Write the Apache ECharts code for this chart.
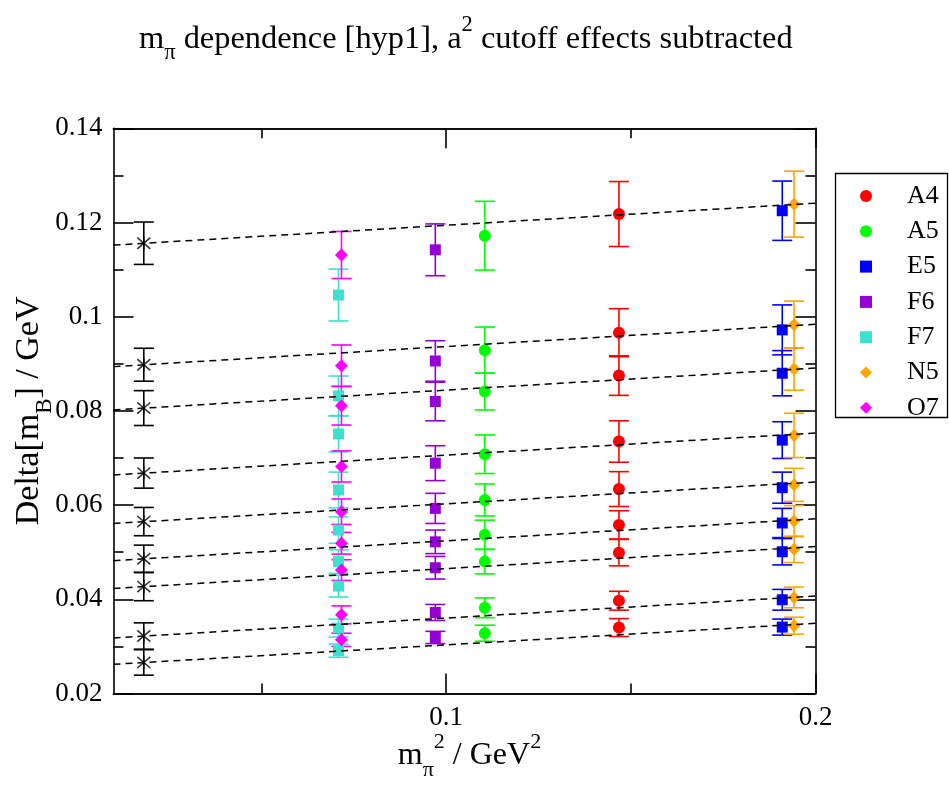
<!DOCTYPE html>
<html><head><meta charset="utf-8">
<script src="https://cdn.jsdelivr.net/npm/echarts@6/dist/echarts.min.js"></script>
<style>html,body{margin:0;padding:0;background:#fff}#c{width:949px;height:786px}</style>
</head><body><div id="c"></div>
<script>
// ---------------- data ----------------
const ensembleNames = ['A4', 'A5', 'E5', 'F6', 'F7', 'N5', 'O7'];
const ensembleColors = ['#ff0000', '#00ff00', '#0000ff', '#9400d3', '#40e0d0', '#ffa500', '#ff00ff'];
const ensembleSymbols = ['circle', 'circle', 'rect', 'rect', 'rect', 'diamond', 'diamond'];
// m_pi^2 (GeV^2) of each ensemble
const ensembleX = [0.1468, 0.1105, 0.1910, 0.0971, 0.0709, 0.1942, 0.0717];

const A4_val = [0.1218, 0.0966, 0.0875, 0.0735, 0.0634, 0.0558, 0.0499, 0.0397, 0.0340];
const A4_err = [0.0069, 0.0051, 0.0042, 0.0044, 0.0037, 0.0030, 0.0028, 0.0020, 0.0019];
const A5_val = [0.1172, 0.0929, 0.0841, 0.0708, 0.0611, 0.0537, 0.0480, 0.0382, 0.0328];
const A5_err = [0.0073, 0.0049, 0.0039, 0.0041, 0.0034, 0.0031, 0.0026, 0.0021, 0.0017];
const E5_val = [0.1225, 0.0972, 0.0880, 0.0738, 0.0637, 0.0562, 0.0501, 0.0399, 0.0341];
const E5_err = [0.0063, 0.0053, 0.0048, 0.0039, 0.0033, 0.0031, 0.0028, 0.0022, 0.0017];
const F6_val = [0.1142, 0.0906, 0.0820, 0.0689, 0.0593, 0.0522, 0.0467, 0.0372, 0.0319];
const F6_err = [0.0055, 0.0043, 0.0041, 0.0037, 0.0032, 0.0025, 0.0024, 0.0017, 0.0013];
const F7_val = [0.1046, 0.0832, 0.0751, 0.0632, 0.0547, 0.0480, 0.0428, 0.0339, 0.0291];
const F7_err = [0.0055, 0.0042, 0.0038, 0.0038, 0.0028, 0.0025, 0.0023, 0.0019, 0.0014];
const N5_val = [0.1239, 0.0983, 0.0889, 0.0748, 0.0643, 0.0566, 0.0506, 0.0404, 0.0344];
const N5_err = [0.0070, 0.0050, 0.0045, 0.0047, 0.0035, 0.0033, 0.0028, 0.0022, 0.0018];
const O7_val = [0.1131, 0.0896, 0.0811, 0.0682, 0.0586, 0.0519, 0.0462, 0.0367, 0.0314];
const O7_err = [0.0050, 0.0044, 0.0041, 0.0033, 0.0027, 0.0023, 0.0022, 0.0019, 0.0014];

// physical point (stars) and fit lines
const physX = 0.0182;
const phys_val = [0.1156, 0.0898, 0.0806, 0.0668, 0.0565, 0.0486, 0.0427, 0.0322, 0.0266];
const phys_err = [0.0045, 0.0035, 0.0037, 0.0032, 0.0030, 0.0029, 0.0030, 0.0028, 0.0027];
const fitX = [0.01, 0.2];
const fit_left = [0.1152, 0.0894, 0.0802, 0.0664, 0.0561, 0.0482, 0.0423, 0.0318, 0.0262];
const fit_right = [0.1241, 0.0984, 0.0891, 0.0753, 0.0649, 0.0571, 0.0512, 0.0407, 0.0349];

// axis ticks
const xMin = 0.01, xMax = 0.2;
const xMajorTicks = [0.1, 0.2];
const xMinorTicks = [0.05, 0.15];
const yMin = 0.02, yMax = 0.14, yStep = 0.02;

// ---------------- chart ----------------
const ensembleVals = [A4_val, A5_val, E5_val, F6_val, F7_val, N5_val, O7_val];
const ensembleErrs = [A4_err, A5_err, E5_err, F6_err, F7_err, N5_err, O7_err];

const FONT = "'Liberation Serif', 'Times New Roman', serif";
const chart = echarts.init(document.getElementById('c'), null, {renderer: 'canvas'});

function errorBarSeries(name, color, xs, vals, errs) {
  return {
    name: name + '_err',
    type: 'custom',
    xAxisIndex: 0, yAxisIndex: 0,
    z: 2,
    silent: true,
    data: vals.map((v, i) => [xs[i], v, errs[i]]),
    renderItem: function (params, api) {
      const x = api.value(0), y = api.value(1), e = api.value(2);
      const top = api.coord([x, y + e]);
      const bot = api.coord([x, y - e]);
      const hw = 10;
      const st = {stroke: color, lineWidth: 1.6};
      return {
        type: 'group',
        children: [
          {type: 'line', shape: {x1: top[0], y1: top[1], x2: bot[0], y2: bot[1]}, style: st},
          {type: 'line', shape: {x1: top[0] - hw, y1: top[1], x2: top[0] + hw, y2: top[1]}, style: st},
          {type: 'line', shape: {x1: bot[0] - hw, y1: bot[1], x2: bot[0] + hw, y2: bot[1]}, style: st}
        ]
      };
    }
  };
}

const series = [];
ensembleNames.forEach((n, k) => {
  const xs = ensembleVals[k].map(() => ensembleX[k]);
  series.push(errorBarSeries(n, ensembleColors[k], xs, ensembleVals[k], ensembleErrs[k]));
  series.push({
    name: n,
    type: 'scatter',
    z: 3,
    symbol: ensembleSymbols[k],
    symbolSize: ensembleSymbols[k] === 'circle' ? 12 : (ensembleSymbols[k] === 'rect' ? 11 : 13),
    itemStyle: {color: ensembleColors[k], opacity: 1},
    data: ensembleVals[k].map(v => [ensembleX[k], v])
  });
});
// stars
const physXs = phys_val.map(() => physX);
series.push(errorBarSeries('phys', '#000000', physXs, phys_val, phys_err));
series.push({
  name: 'phys',
  type: 'scatter',
  z: 3,
  symbol: 'path://M0,0L12,12M12,0L0,12M6,-1L6,13',
  symbolSize: 13,
  itemStyle: {color: 'rgba(0,0,0,0)', borderColor: '#000', borderWidth: 1.6},
  data: phys_val.map(v => [physX, v])
});
// fit lines
fit_left.forEach((l, i) => {
  series.push({
    name: 'fit' + i,
    type: 'line',
    z: 5,
    silent: true,
    showSymbol: false,
    symbol: 'none',
    lineStyle: {color: '#000', width: 1.5, type: [7, 5]},
    data: [[fitX[0], l], [fitX[1], fit_right[i]]]
  });
});

function richSet(main, small, padM, padP) {
  return {
    m: {fontFamily: FONT, fontSize: main, fontWeight: 'normal', color: '#000', padding: [0, 0, padM, 0], verticalAlign: 'bottom'},
    s: {fontFamily: FONT, fontSize: small, fontWeight: 'normal', color: '#000', padding: [0, 0, 0, 0], verticalAlign: 'bottom'},
    p: {fontFamily: FONT, fontSize: small, fontWeight: 'normal', color: '#000', padding: [0, 0, padP, 0], verticalAlign: 'bottom'}
  };
}
const tickLabelStyle = {fontFamily: FONT, fontSize: 27, color: '#000'};
const xNameRich = richSet(32, 22, 10, 28);
const yNameRich = richSet(34, 23, 10, 29);
const titleRich = richSet(32.4, 22.5, 10, 28);

function xAx(pos, ticks, len, labels) {
  return {
    type: 'value', position: pos, min: xMin, max: xMax,
    axisLine: {show: true, onZero: false, lineStyle: {color: '#000', width: 1.6}},
    axisTick: {show: true, inside: true, length: len, customValues: ticks, lineStyle: {color: '#000', width: 1.6}},
    axisLabel: labels ? Object.assign({show: true, customValues: ticks, margin: 11}, tickLabelStyle) : {show: false},
    splitLine: {show: false}
  };
}
function yAx(pos, labels) {
  return {
    type: 'value', position: pos, min: yMin, max: yMax, interval: yStep,
    axisLine: {show: true, onZero: false, lineStyle: {color: '#000', width: 1.6}},
    axisTick: {show: true, inside: true, length: 20, lineStyle: {color: '#000', width: 1.6}},
    minorTick: {show: true, splitNumber: 2, length: 10, lineStyle: {color: '#000', width: 1.6}},
    axisLabel: labels ? Object.assign({show: true, margin: 11}, tickLabelStyle) : {show: false},
    splitLine: {show: false}, minorSplitLine: {show: false}
  };
}

const xAxes = [xAx('bottom', xMajorTicks, 20, true), xAx('bottom', xMinorTicks, 10, false),
               xAx('top', xMajorTicks, 20, false), xAx('top', xMinorTicks, 10, false)];
xAxes[0].name = '{m|m}{s|π}{p|2}{m| / GeV}{p|2}';
xAxes[0].nameLocation = 'middle';
xAxes[0].nameGap = 38;
xAxes[0].nameMoveOverlap = false;
xAxes[0].nameTextStyle = {rich: xNameRich, padding: [0, 0, 0, 10]};

const yAxes = [yAx('left', true), yAx('right', false)];
yAxes[0].name = '{m|Delta[m}{s|B}{m|] / GeV}';
yAxes[0].nameLocation = 'middle';
yAxes[0].nameGap = 57;
yAxes[0].nameMoveOverlap = false;
yAxes[0].nameTextStyle = {rich: yNameRich};

const option = {
  backgroundColor: '#fff',
  animation: false,
  title: {
    text: '{m|m}{s|π}{m| dependence [hyp1], a}{p|2}{m| cutoff effects subtracted}',
    left: 134, top: 9,
    textStyle: {fontWeight: 'normal', rich: titleRich}
  },
  grid: {left: 113.5, right: 133.5, top: 128.3, bottom: 92.5, containLabel: false, outerBoundsMode: 'none'},
  legend: {
    data: ensembleNames,
    orient: 'vertical',
    left: 860, top: 183,
    itemWidth: 12, itemHeight: 12,
    itemGap: 9.3,
    padding: 0,
    textStyle: {fontFamily: FONT, fontSize: 26, color: '#000', lineHeight: 24, padding: [0, 0, 0, 30]},
    selectedMode: false
  },
  graphic: [{
    type: 'rect', z: -1,
    shape: {x: 835.5, y: 173.5, width: 112, height: 244},
    style: {fill: '#fff', stroke: '#000', lineWidth: 1.3}
  }],
  xAxis: xAxes,
  yAxis: yAxes,
  series: series
};
chart.setOption(option);
</script></body></html>
